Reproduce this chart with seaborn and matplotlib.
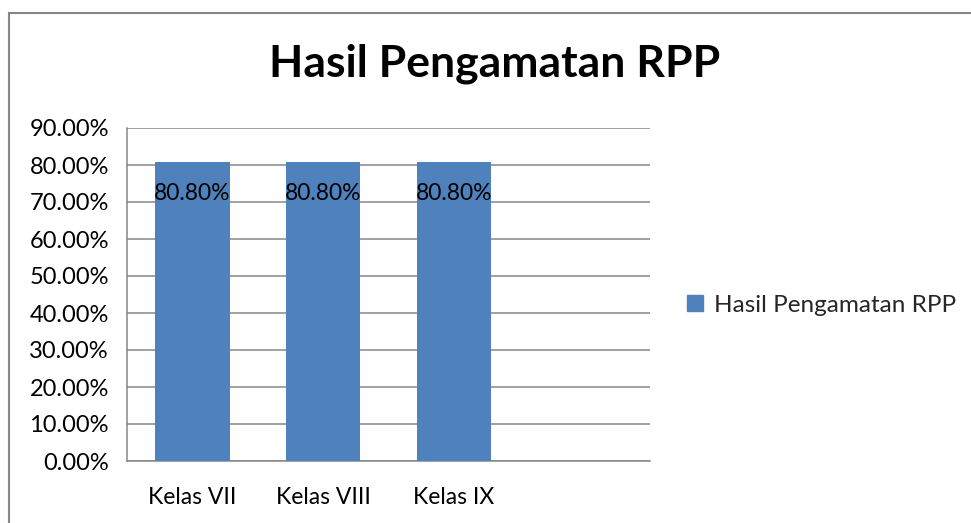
import matplotlib
matplotlib.use("Agg")
import matplotlib.pyplot as plt
import seaborn as sns
import pandas as pd
from matplotlib.patches import Patch, Rectangle
from matplotlib.ticker import FuncFormatter

categories = ["Kelas VII", "Kelas VIII", "Kelas IX"]
values = [80.80, 80.80, 80.80]
series_name = "Hasil Pengamatan RPP"
title = "Hasil Pengamatan RPP"
yticks = [0, 10, 20, 30, 40, 50, 60, 70, 80, 90]

sns.set_theme(style="white")
plt.rcParams['font.family'] = ['Lato', 'DejaVu Sans']

df = pd.DataFrame({"Kelas": categories, "Nilai": values})

fig = plt.figure(figsize=(9.71, 5.23), dpi=100)
ax = fig.add_axes([127/971, 1-461/523, (650-127)/971, (461-128)/523])

bar_color = "#4F81BD"
sns.barplot(data=df, x="Kelas", y="Nilai", color=bar_color, width=0.57,
            saturation=1, ax=ax, zorder=3, linewidth=0)

ax.set_xlim(-0.5, 3.5)
ax.set_ylim(0, 90)
ax.set_yticks(yticks)
ax.yaxis.set_major_formatter(FuncFormatter(lambda v, p: f"{v:.2f}%"))
ax.grid(axis="y", color="#868686", linewidth=1.1, zorder=0)
ax.set_axisbelow(True)
for s in ["top", "right"]:
    ax.spines[s].set_visible(False)
for s in ["left", "bottom"]:
    ax.spines[s].set_color("#868686")
    ax.spines[s].set_linewidth(1.1)
ax.tick_params(axis="y", length=0, labelsize=17, colors="black", pad=13)
ax.tick_params(axis="x", length=0, labelsize=16.5, colors="black", pad=19)
ax.set_xlabel("")
ax.set_ylabel("")

for i, v in enumerate(values):
    ax.annotate(f"{v:.2f}%", xy=(i, v), xytext=(0, -23), textcoords="offset points",
                ha="center", va="center", fontsize=16.5, color="black", zorder=4)

fig.text(495/971, 1-64/523, title, ha="center", va="center", fontsize=32,
         fontweight="bold", color="black")

handles = [Patch(facecolor=bar_color, edgecolor=bar_color, label=series_name)]
fig.legend(handles=handles, loc="center left", bbox_to_anchor=(665/971, 1-305/523),
           frameon=False, fontsize=17.5, handlelength=0.65, handleheight=0.65,
           handletextpad=0.45)

fig.patches.append(Rectangle((9/971, -0.1), 1.2, 1.1 - 13/523, transform=fig.transFigure,
                             fill=False, edgecolor="#868686", linewidth=1.5))

fig.savefig("out.png", dpi=100)
